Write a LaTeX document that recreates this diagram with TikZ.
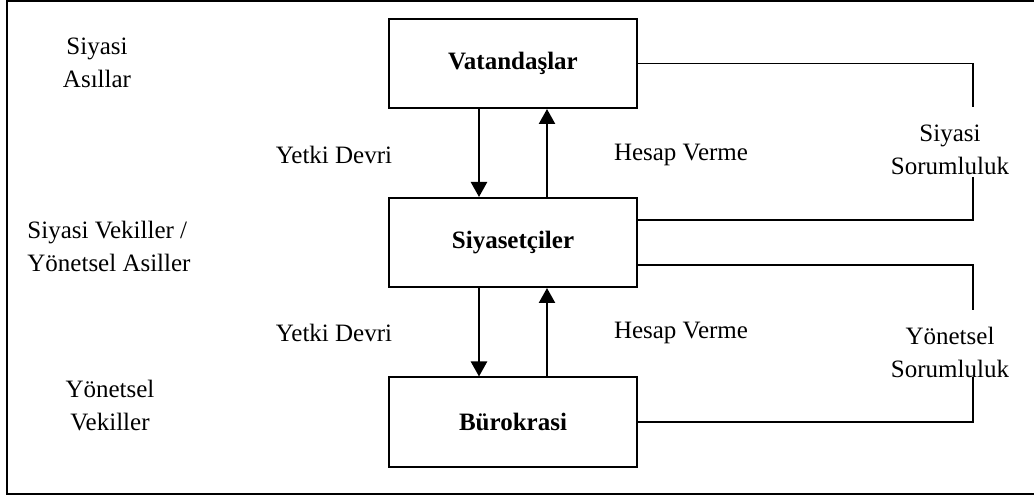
\documentclass[tikz,border=0pt]{standalone}
\usepackage{fontspec}
\setmainfont{Liberation Serif}
\usetikzlibrary{arrows.meta}
\begin{document}
\begin{tikzpicture}[x=0.5pt,y=-0.5pt,
  txt/.style={font=\fontsize{12.5}{16.5}\selectfont, inner sep=0pt, align=center},
  actor/.style={draw, line width=1pt, minimum width=124pt, minimum height=44.5pt,
    inner sep=0pt, font=\fontsize{12.5}{16.5}\selectfont\bfseries},
  flow/.style={line width=1.2pt, -{Triangle[length=7.5pt,width=8pt]}},
  link/.style={line width=0.8pt}]
\useasboundingbox (0,0) rectangle (1034,497);
% outer frame (its right side runs past the page edge)
\draw[line width=0.9pt] (1040,1) -- (7,1) -- (7,494) -- (1040,494);

% the three actors
\node[actor] (v) at (513,63.5) {Vatandaşlar};
\node[actor] (s) at (513,242.5) {Siyasetçiler};
\node[actor] (b) at (513,422) {Bürokrasi};

% role labels on the left
\node[txt] (l1) at (97,63) {Siyasi\\Asıllar};
\node[txt, align=left, anchor=west] (l2) at (27,246) {Siyasi Vekiller /\\Yönetsel Asiller};
\node[txt] (l3) at (110,406) {Yönetsel\\Vekiller};

% delegation and accountability arrows
\coordinate (dx) at (479,0);
\coordinate (ux) at (547,0);
\draw[flow] (v.south -| dx) -- (s.north -| dx);
\draw[flow] (s.north -| ux) -- (v.south -| ux);
\draw[flow] (s.south -| dx) -- (b.north -| dx);
\draw[flow] (b.north -| ux) -- (s.south -| ux);

\node[txt] (y1) at (334,155) {Yetki Devri};
\node[txt] (h1) at (681,155) {Hesap Verme};
\node[txt] (y2) at (334,333) {Yetki Devri};
\node[txt] (h2) at (681,333) {Hesap Verme};

% responsibility brackets on the right
\node[txt] (r1) at (950,150) {Siyasi\\Sorumluluk};
\node[txt] (r2) at (950,352) {Yönetsel\\Sorumluluk};

\coordinate (k1) at (973,107);
\coordinate (k2) at (973,177);
\coordinate (k3) at (973,220);
\coordinate (k4) at (973,310);
\coordinate (k5) at (973,377);
\coordinate (k6) at (973,422);
\coordinate (e2) at (0,265);

\draw[link] (v.east) -| (k1);
\draw[link] (k2) -- (k3) -- (s.east |- k3);
\draw[link] (s.east |- e2) -| (k4);
\draw[link] (k5) -- (k6) -- (b.east |- k6);
\end{tikzpicture}
\end{document}
